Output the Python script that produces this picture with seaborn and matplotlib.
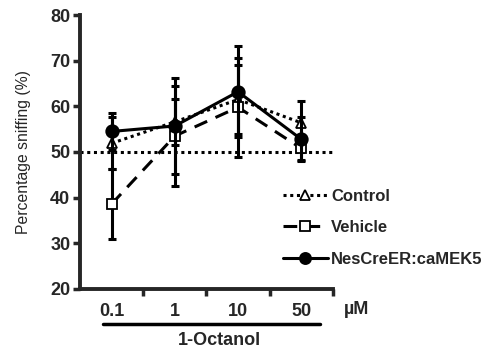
import numpy as np
import pandas as pd
import seaborn as sns
from matplotlib import pyplot as plt
from matplotlib.lines import Line2D

sns.set_style('ticks')
plt.rcParams['font.family'] = ['Liberation Sans', 'DejaVu Sans']

# Data (mean +/- error per concentration).
concentrations = ['0.1', '1', '10', '50']
groups = ['Control', 'Vehicle', 'NesCreER:caMEK5']
control_mean = [51.9, 56.6, 61.5, 56.4]
control_err = [5.7, 5.0, 7.6, 4.8]
vehicle_mean = [38.6, 53.5, 59.8, 50.8]
vehicle_err = [7.6, 11.0, 10.8, 2.6]
mek5_mean = [54.5, 55.7, 63.2, 52.8]
mek5_err = [4.0, 10.6, 10.0, 4.8]
chance_level = 50

df = pd.DataFrame({
    'conc': list(range(len(concentrations))) * 3,
    'group': np.repeat(groups, len(concentrations)),
    'mean': control_mean + vehicle_mean + mek5_mean,
    'err': control_err + vehicle_err + mek5_err,
})

styles = {
    'Control': dict(ls=(0, (1, 1.2)), marker='^', mfc='white', ms=7.5),
    'Vehicle': dict(ls=(0, (4.5, 3)), marker='s', mfc='white', ms=7.5),
    'NesCreER:caMEK5': dict(ls='-', marker='o', mfc='black', ms=9),
}

fig = plt.figure(figsize=(4.88, 3.51), dpi=100)
ax = fig.add_axes([0.164, 0.177, 0.518, 0.78])

ax.axhline(chance_level, color='black', lw=2.2, ls=(0, (1, 1.2)), zorder=1)

for i, g in enumerate(groups):
    sub = df[df['group'] == g]
    st = styles[g]
    ax.errorbar(sub['conc'], sub['mean'], yerr=sub['err'], fmt='none',
                ecolor='black', elinewidth=2.2, capsize=2.7, capthick=2.2,
                zorder=2 + i)
    sns.lineplot(data=sub, x='conc', y='mean', ax=ax, color='black',
                 linestyle=st['ls'], linewidth=2.2, marker=st['marker'],
                 markersize=st['ms'], markerfacecolor=st['mfc'],
                 markeredgecolor='black', markeredgewidth=1.3,
                 zorder=2 + i, legend=False)

ax.set_xlim(-0.5, 3.5)
ax.set_ylim(20, 80)
ax.set_yticks(range(20, 81, 10))
ax.set_xticks(range(len(concentrations)))
ax.set_xticklabels(concentrations)
ax.set_xticks([0.5, 1.5, 2.5, 3.5], minor=True)
ax.tick_params(axis='x', which='major', length=0, pad=10)
ax.tick_params(axis='x', which='minor', length=5, width=2.5, direction='out')
ax.tick_params(axis='y', which='major', length=5, width=2.5, direction='out', pad=2)
for lab in ax.get_xticklabels() + ax.get_yticklabels():
    lab.set_fontsize(13)
    lab.set_fontweight('bold')

ax.set_xlabel('')
ax.set_ylabel('Percentage sniffing (%)', fontsize=11.3, labelpad=14)
sns.despine(ax=ax)
for sp in ['left', 'bottom']:
    ax.spines[sp].set_linewidth(2.8)

# unit label and the bracket under the concentration labels
trans = ax.get_xaxis_transform()
ax.text(3.88, -0.075, 'µM', transform=trans, fontsize=13, fontweight='bold',
        ha='center', va='center')
ax.add_line(Line2D([-0.14, 3.29], [-0.128, -0.128], transform=trans,
                   color='black', lw=2.5, clip_on=False))
ax.text(1.7, -0.188, '1-Octanol', transform=trans, fontsize=13,
        fontweight='bold', ha='center', va='center')

handles = [Line2D([], [], color='black', lw=2.2, linestyle=styles[g]['ls'],
                  marker=styles[g]['marker'], markersize=styles[g]['ms'] - 1,
                  markerfacecolor=styles[g]['mfc'], markeredgecolor='black',
                  markeredgewidth=1.3) for g in groups]
ax.legend(handles, groups, loc='center left', bbox_to_anchor=(0.802, 0.223),
          frameon=False, borderaxespad=0, borderpad=0, handlelength=2.7,
          handletextpad=0.2, labelspacing=0.98,
          prop={'weight': 'bold', 'size': 12})

fig.savefig('out.png', dpi=100)
